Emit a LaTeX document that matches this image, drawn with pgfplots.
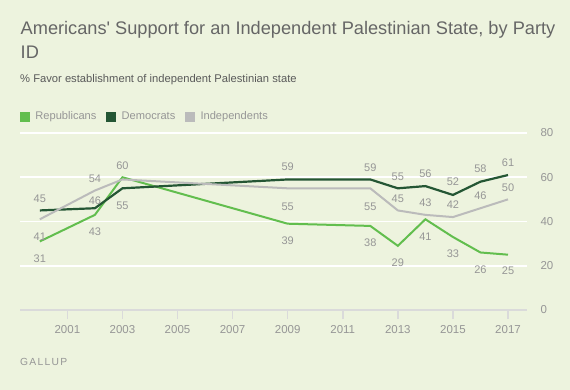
\documentclass[border=0pt]{standalone}
\usepackage{fontspec}
\setmainfont{Liberation Sans}[Ligatures=TeXOff]
\usepackage{pgfplots}
\usepackage{pgfplotstable}
\pgfplotsset{compat=1.18}
\definecolor{bgc}{RGB}{237,243,222}
\definecolor{repc}{RGB}{98,190,78}
\definecolor{demc}{RGB}{36,86,52}
\definecolor{indc}{RGB}{187,187,187}
\definecolor{labc}{RGB}{150,150,150}
\definecolor{titc}{RGB}{102,102,102}
\definecolor{subc}{RGB}{90,90,90}
\definecolor{axc}{RGB}{218,218,218}

\pgfplotstableread{
x y dy lab
2000 31 -17 31
2002 43 -17 43
2003 60 12 60
2009 39 -17 39
2012 38 -17 38
2013 29 -17 29
2014 41 -17 41
2015 33 -17 33
2016 26 -17 26
2017 25 -16 25
}\rep
\pgfplotstableread{
x y dy lab
2000 45 12 45
2002 46 8 46
2003 55 -17.5 55
2009 59 12.5 59
2012 59 12 59
2013 55 12 55
2014 56 12 56
2015 52 13 52
2016 58 12.5 58
2017 61 12 61
}\dem
\pgfplotstableread{
x y dy lab
2000 41 -17 41
2002 54 12 54
2003 59 0 {}
2009 55 -18 55
2012 55 -18 55
2013 45 12 45
2014 43 12.5 43
2015 42 12.5 42
2016 46 13 46
2017 50 12 50
}\ind

\begin{document}
\begin{tikzpicture}
\fill[bgc] (0bp,0bp) rectangle (570bp,390bp);
\node[anchor=base west, inner sep=0, text=titc, font=\fontsize{18.2bp}{24bp}\selectfont] at (20.5bp,355.7bp) {Americans' Support for an Independent Palestinian State, by Party};
\node[anchor=base west, inner sep=0, text=titc, font=\fontsize{18.2bp}{24bp}\selectfont] at (20.5bp,331.7bp) {ID};
\node[anchor=base west, inner sep=0, text=subc, font=\fontsize{11.2bp}{14bp}\selectfont] at (20bp,307.7bp) {\% Favor establishment of independent Palestinian state};
\node[anchor=base west, inner sep=0, text=labc, font=\fontsize{10.3bp}{12bp}\selectfont] at (20bp,24.3bp) {\addfontfeatures{LetterSpace=12.4}GALLUP};
\begin{axis}[
  at={(20bp,80bp)}, anchor=south west, scale only axis,
  width=507bp, height=177bp,
  xmin=1999.28, xmax=2017.69, ymin=0, ymax=80,
  axis line style={draw=none},
  xtick={2001,2003,...,2017},
  ytick={0,20,40,60,80},
  yticklabel pos=right,
  xtick pos=bottom,
  tick align=outside,
  major tick length=9bp,
  xtick style={draw=axc, line width=1.5bp},
  ytick style={draw=none},
  ymajorgrids, grid style={white, line width=1.8bp},
  xticklabel style={font=\fontsize{11.5bp}{14bp}\selectfont, text=labc, yshift=-3bp},
  yticklabel style={font=\fontsize{11.5bp}{14bp}\selectfont, text=labc, anchor=west, xshift=1bp},
  /pgf/number format/assume math mode=true,
  xticklabel={\pgfmathprintnumber[1000 sep={}]{\tick}},
  legend style={at={(0,1)}, anchor=west, yshift=16.3bp, draw=none, fill=none, inner sep=0pt,
    font=\fontsize{11.1bp}{13bp}\selectfont, text=labc, nodes={inner sep=0pt},
    /tikz/every odd column/.style={column sep=5.7bp},
    /tikz/every even column/.style={column sep=10bp}},
  legend columns=-1,
  legend image code/.code={\fill[draw=none] (0bp,-5bp) rectangle (9.5bp,5bp);},
  every node near coord/.append style={anchor=center, inner sep=0pt, yshift=\dy bp, text=labc, font=\fontsize{11bp}{13bp}\selectfont},
  clip=false,
]
\draw[axc, line width=2bp] (axis cs:1999.28,0) -- (axis cs:2017.69,0);
\addplot[color=repc, line width=2bp, nodes near coords, point meta=explicit symbolic,
  visualization depends on={\thisrow{dy} \as \dy}] table[x=x, y=y, meta=lab]{\rep};
\addlegendentry{Republicans}
\addplot[color=demc, line width=2.2bp, nodes near coords, point meta=explicit symbolic,
  visualization depends on={\thisrow{dy} \as \dy}] table[x=x, y=y, meta=lab]{\dem};
\addlegendentry{Democrats}
\addplot[color=indc, line width=2bp, nodes near coords, point meta=explicit symbolic,
  visualization depends on={\thisrow{dy} \as \dy}] table[x=x, y=y, meta=lab]{\ind};
\addlegendentry{Independents}
\end{axis}
\end{tikzpicture}
\end{document}
